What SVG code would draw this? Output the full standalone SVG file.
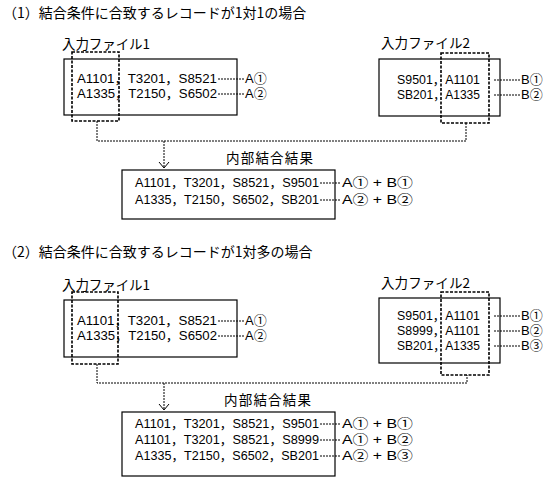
<svg xmlns="http://www.w3.org/2000/svg" width="545" height="479" viewBox="0 0 545 479">
<style>
text{font-family:"Liberation Sans","Noto Sans CJK JP",sans-serif;font-size:13px;fill:#000}
.jp{font-family:"Noto Sans CJK JP",sans-serif;font-size:13.5px}
.ttl{font-size:14px}
.box{fill:#fff;stroke:#000;stroke-width:1.2}
.key{fill:none;stroke:#000;stroke-width:1.6;stroke-dasharray:3,1.5}
.dot{fill:none;stroke:#000;stroke-width:1;stroke-dasharray:2,1}
.arr{fill:none;stroke:#000;stroke-width:1}
</style>
<rect width="545" height="479" fill="#fff"/>
<g id="title1"><text class="jp ttl" x="3" y="18">（1）結合条件に合致するレコードが1対1の場合</text></g>
<g id="in1a">
<text class="jp" x="62" y="49" textLength="88">入力ファイル1</text>
<rect class="box" x="64" y="59" width="173" height="56"/>
<text x="77" y="83" textLength="140" lengthAdjust="spacingAndGlyphs">A1101，T3201，S8521</text>
<text x="77" y="98" textLength="140" lengthAdjust="spacingAndGlyphs">A1335，T2150，S6502</text>
<rect class="key" x="72" y="52" width="47" height="69"/>
<text x="245" y="83">A①</text><text x="245" y="98">A②</text>
</g>
<g id="in2a">
<text class="jp" x="381" y="48" textLength="89">入力ファイル2</text>
<rect class="box" x="379" y="59" width="121" height="57"/>
<text x="397" y="84" textLength="83" lengthAdjust="spacingAndGlyphs">S9501，A1101</text>
<text x="397" y="99" textLength="83" lengthAdjust="spacingAndGlyphs">SB201，A1335</text>
<rect class="key" x="441" y="53" width="48" height="70"/>
<text x="521" y="84">B①</text><text x="521" y="99">B②</text>
</g>
<g id="res1">
<text class="jp" x="226" y="163" textLength="87">内部結合結果</text>
<rect class="box" x="122" y="170" width="213" height="49"/>
<text x="135" y="187" textLength="184" lengthAdjust="spacingAndGlyphs">A1101，T3201，S8521，S9501</text>
<text x="135" y="204" textLength="184" lengthAdjust="spacingAndGlyphs">A1335，T2150，S6502，SB201</text>
<text x="342" y="187" textLength="71" lengthAdjust="spacingAndGlyphs">A①  +  B①</text>
<text x="342" y="204" textLength="71" lengthAdjust="spacingAndGlyphs">A②  +  B②</text>
</g>
<g id="title2"><text class="jp ttl" x="3" y="257">（2）結合条件に合致するレコードが1対多の場合</text></g>
<g id="in1b">
<text class="jp" x="62" y="290" textLength="88">入力ファイル1</text>
<rect class="box" x="64" y="300" width="173" height="57"/>
<text x="77" y="325" textLength="140" lengthAdjust="spacingAndGlyphs">A1101，T3201，S8521</text>
<text x="77" y="340" textLength="140" lengthAdjust="spacingAndGlyphs">A1335，T2150，S6502</text>
<rect class="key" x="72" y="292" width="46" height="72"/>
<text x="245" y="325">A①</text><text x="245" y="340">A②</text>
</g>
<g id="in2b">
<text class="jp" x="381" y="288" textLength="89">入力ファイル2</text>
<rect class="box" x="379" y="298" width="121" height="65"/>
<text x="397" y="320" textLength="83" lengthAdjust="spacingAndGlyphs">S9501，A1101</text>
<text x="397" y="335" textLength="83" lengthAdjust="spacingAndGlyphs">S8999，A1101</text>
<text x="397" y="350" textLength="83" lengthAdjust="spacingAndGlyphs">SB201，A1335</text>
<rect class="key" x="441" y="292" width="48" height="83"/>
<text x="521" y="320">B①</text><text x="521" y="335">B②</text><text x="521" y="350">B③</text>
</g>
<g id="res2">
<text class="jp" x="224" y="405" textLength="87">内部結合結果</text>
<rect class="box" x="122" y="412" width="213" height="64"/>
<text x="135" y="428" textLength="184" lengthAdjust="spacingAndGlyphs">A1101，T3201，S8521，S9501</text>
<text x="135" y="444" textLength="184" lengthAdjust="spacingAndGlyphs">A1101，T3201，S8521，S8999</text>
<text x="135" y="460" textLength="184" lengthAdjust="spacingAndGlyphs">A1335，T2150，S6502，SB201</text>
<text x="342" y="428" textLength="71" lengthAdjust="spacingAndGlyphs">A①  +  B①</text>
<text x="342" y="444" textLength="71" lengthAdjust="spacingAndGlyphs">A①  +  B②</text>
<text x="342" y="460" textLength="71" lengthAdjust="spacingAndGlyphs">A②  +  B③</text>
</g>
<g id="connectors">
<path class="dot" d="M218 79H244M218 94H244M494 80H520M494 95H520M320 183H341M320 200H341"/>
<path class="dot" d="M97 121V141H466V123M164 141V168"/>
<path class="arr" d="M159 162L164 168L169 162"/>
<path class="dot" d="M218 321H244M218 336H244M494 316H520M494 331H520M494 346H520M320 424H341M320 440H341M320 456H341"/>
<path class="dot" d="M97 364V383H467V375M164 383V410"/>
<path class="arr" d="M159 404L164 410L169 404"/>
</g>
</svg>
